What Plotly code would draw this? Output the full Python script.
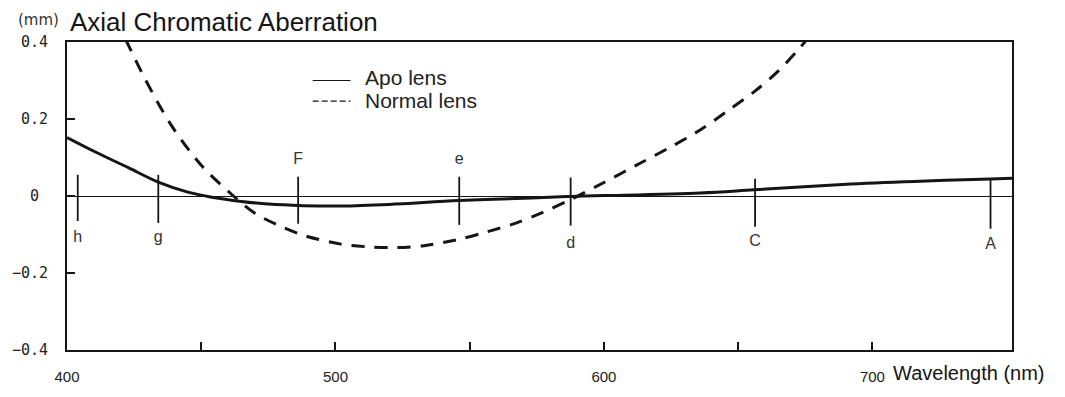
import plotly.graph_objects as go

# Axial chromatic aberration (mm) versus wavelength (nm)
apo_wl = [400, 411, 423, 434, 445, 454, 465, 475, 488, 502, 520, 546, 573, 588, 600, 636, 656, 692, 720, 744, 752]
apo_ab = [0.152, 0.113, 0.073, 0.036, 0.01, -0.003, -0.014, -0.021, -0.025, -0.026, -0.022, -0.012,
          -0.005, -0.001, 0.001, 0.008, 0.016, 0.031, 0.039, 0.044, 0.046]

normal_wl = [418, 423, 429, 439, 450, 462, 470, 480, 489, 502, 512, 522, 533, 545, 556, 567, 577, 588,
             600, 614, 625, 636, 646, 656, 665, 673, 680]
normal_ab = [0.46, 0.39, 0.305, 0.182, 0.08, 0.0, -0.045, -0.080, -0.104, -0.125, -0.132, -0.134,
             -0.129, -0.114, -0.094, -0.071, -0.043, -0.008, 0.035, 0.087, 0.128, 0.172, 0.221,
             0.271, 0.325, 0.385, 0.445]

# Fraunhofer line markers
line_names = ["h", "g", "F", "e", "d", "C", "A"]
line_wl = [404, 434, 486.1, 546.1, 587.6, 656.3, 744]
line_top = [0.055, 0.055, 0.05, 0.05, 0.048, 0.045, 0.044]
line_bottom = [-0.065, -0.07, -0.072, -0.075, -0.077, -0.08, -0.085]
label_y = [-0.11, -0.11, 0.093, 0.093, -0.125, -0.12, -0.128]

x_ticks = [400, 450, 500, 550, 600, 650, 700]
x_ticktext = ["400", "", "500", "", "600", "", "700"]
y_ticks = [-0.4, -0.2, 0, 0.2, 0.4]
y_ticktext = ["\u22120.4", "\u22120.2", "0\u00a0", "0.2", "0.4"]

INK = "#151515"
SANS = "Liberation Sans, Arial, sans-serif"

fig = go.Figure()

mx, my = [], []
for w, t, b in zip(line_wl, line_top, line_bottom):
    mx += [w, w, None]
    my += [t, b, None]
fig.add_trace(go.Scatter(x=mx, y=my, mode="lines", line=dict(color=INK, width=1.8),
                         hoverinfo="skip", showlegend=False))
fig.add_trace(go.Scatter(x=line_wl, y=label_y, mode="text", text=line_names,
                         textfont=dict(family=SANS, size=16, color="#333"),
                         hoverinfo="skip", showlegend=False))

fig.add_trace(go.Scatter(x=normal_wl, y=normal_ab, mode="lines", name="Normal lens",
                         line=dict(color=INK, width=3, dash="13px,10px", shape="spline", smoothing=0.9),
                         showlegend=False))
fig.add_trace(go.Scatter(x=apo_wl, y=apo_ab, mode="lines", name="Apo lens",
                         line=dict(color=INK, width=3, shape="spline", smoothing=1.0),
                         showlegend=False))

# Legend drawn as line samples plus labels
fig.add_shape(type="line", xref="paper", yref="paper", x0=0.26, x1=0.3, y0=0.875, y1=0.875,
              line=dict(color=INK, width=1.2))
fig.add_shape(type="line", xref="paper", yref="paper", x0=0.26, x1=0.3, y0=0.808, y1=0.808,
              line=dict(color=INK, width=1.2, dash="6px,3px"))
fig.add_annotation(xref="paper", yref="paper", x=0.313, y=0.886, text="Apo lens", showarrow=False,
                   xanchor="left", yanchor="middle", font=dict(family=SANS, size=21, color="#222"))
fig.add_annotation(xref="paper", yref="paper", x=0.313, y=0.811, text="Normal lens", showarrow=False,
                   xanchor="left", yanchor="middle", font=dict(family=SANS, size=21, color="#222"))

# Title, unit and axis caption
fig.add_annotation(xref="paper", yref="paper", x=0, xshift=1, y=1.066, text="Axial Chromatic Aberration",
                   showarrow=False, xanchor="left", yanchor="middle",
                   font=dict(family=SANS, size=26, color="#151515"))
fig.add_annotation(xref="paper", yref="paper", x=-0.054, y=1.07, text="(mm)", showarrow=False,
                   xanchor="left", yanchor="middle", font=dict(family="DejaVu Sans", size=15, color="#333"))
fig.add_annotation(xref="paper", yref="paper", x=1.037, y=-0.076, text="Wavelength (nm)", showarrow=False,
                   xanchor="right", yanchor="middle", font=dict(family=SANS, size=20, color="#151515"))

fig.update_xaxes(range=[400, 752], tickmode="array", tickvals=x_ticks, ticktext=x_ticktext,
                 ticks="inside", ticklen=8, tickwidth=1.6, tickcolor=INK,
                 showline=True, linecolor=INK, linewidth=2, mirror=True,
                 showgrid=False, zeroline=False, ticklabelstandoff=12,
                 tickfont=dict(family=SANS, size=15, color="#222"))
fig.update_yaxes(range=[-0.4, 0.4], tickmode="array", tickvals=y_ticks, ticktext=y_ticktext,
                 ticks="inside", ticklen=8, tickwidth=1.6, tickcolor=INK,
                 showline=True, linecolor=INK, linewidth=2, mirror=True,
                 showgrid=False, zeroline=True, zerolinecolor=INK, zerolinewidth=1.4,
                 ticklabelstandoff=14,
                 tickfont=dict(family="DejaVu Sans Mono", size=15, color="#222"))

fig.update_layout(width=1065, height=397, margin=dict(l=66, r=53, t=42, b=38),
                  paper_bgcolor="white", plot_bgcolor="white", showlegend=False)

fig.write_html("out.html")
